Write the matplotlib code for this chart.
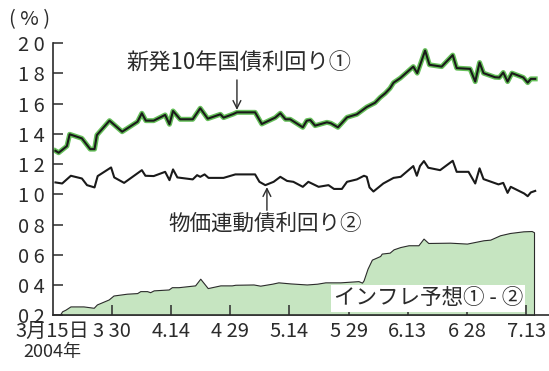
import matplotlib.pyplot as plt

plt.rcParams['font.family'] = ['Noto Sans CJK JP', 'DejaVu Sans']

# 2004年3月15日からの経過日数
days_nominal = [0.7, 1.5, 3.6, 4.3, 7.4, 9.5, 10.6, 11.2, 14.4, 17.6, 21.5, 22.6,
                23.6, 25.6, 28.5, 29.6, 30.5, 32.3, 35.5, 37.4, 39.3, 42.5, 43.3,
                45.8, 46.7, 51.3, 53.0, 56.4, 57.7, 59.0, 60.2, 63.4, 64.4, 65.3,
                66.5, 69.5, 70.5, 72.3, 74.6, 77.1, 79.6, 81.7, 83.0, 84.3, 85.5,
                86.4, 88.1, 91.4, 92.4, 94.4, 95.5, 98.6, 101.4, 102.4, 105.8,
                107.1, 108.2, 109.2, 112.1, 113.2, 114.2, 115.3, 116.4, 119.3,
                120.4, 121.2, 122.3]
yield_nominal = [1.288, 1.275, 1.319, 1.397, 1.370, 1.299, 1.299, 1.392, 1.487,
                 1.414, 1.480, 1.536, 1.487, 1.487, 1.525, 1.463, 1.551, 1.496,
                 1.496, 1.569, 1.500, 1.529, 1.507, 1.531, 1.542, 1.542, 1.465,
                 1.507, 1.536, 1.496, 1.496, 1.443, 1.487, 1.491, 1.454, 1.476,
                 1.470, 1.443, 1.509, 1.529, 1.577, 1.605, 1.640, 1.668, 1.701,
                 1.738, 1.768, 1.844, 1.801, 1.950, 1.856, 1.844, 1.920, 1.834,
                 1.829, 1.745, 1.871, 1.801, 1.774, 1.772, 1.805, 1.745, 1.801,
                 1.772, 1.738, 1.763, 1.763]

days_real = [0.7, 2.4, 4.6, 7.4, 8.7, 10.6, 11.4, 14.8, 15.6, 18.1, 22.6, 23.5,
             25.6, 28.5, 29.6, 30.5, 31.6, 35.5, 36.6, 37.4, 38.5, 39.5, 43.3,
             46.3, 51.3, 52.4, 53.9, 56.0, 57.7, 59.4, 61.0, 63.4, 64.8, 67.4,
             69.9, 71.3, 73.3, 74.6, 77.1, 78.9, 79.6, 80.3, 81.3, 83.8, 86.4,
             88.2, 91.4, 92.3, 93.1, 94.1, 95.2, 98.2, 101.4, 102.4, 105.4,
             107.1, 108.2, 109.2, 113.0, 114.2, 115.3, 116.1, 119.5, 120.4,
             121.2, 122.3]
yield_real = [1.079, 1.072, 1.123, 1.105, 1.061, 1.046, 1.121, 1.178, 1.112,
              1.076, 1.160, 1.123, 1.121, 1.149, 1.094, 1.165, 1.112, 1.099,
              1.127, 1.116, 1.132, 1.109, 1.109, 1.132, 1.132, 1.083, 1.061,
              1.083, 1.116, 1.089, 1.083, 1.050, 1.083, 1.050, 1.061, 1.036,
              1.036, 1.083, 1.099, 1.123, 1.116, 1.046, 1.019, 1.072, 1.109,
              1.116, 1.187, 1.123, 1.187, 1.220, 1.176, 1.160, 1.222, 1.149,
              1.149, 1.072, 1.172, 1.101, 1.066, 1.076, 1.010, 1.050, 1.006,
              0.988, 1.013, 1.023]

days_infl = [1.7, 2.4, 3.2, 4.5, 7.8, 10.4, 11.2, 14.2, 15.4, 18.8, 21.4, 22.2,
             23.9, 24.7, 25.6, 29.4, 30.2, 31.9, 36.1, 37.4, 39.3, 42.5, 45.4,
             46.3, 50.9, 52.6, 55.6, 57.2, 60.2, 64.4, 67.0, 69.1, 72.9, 77.5,
             78.4, 78.8, 79.8, 80.9, 83.0, 83.4, 85.4, 86.4, 88.1, 90.2, 92.7,
             94.0, 95.2, 100.7, 105.0, 109.2, 110.9, 113.4, 115.9, 119.3, 121.4,
             122.0]
infl_expect = [0.200, 0.228, 0.238, 0.260, 0.260, 0.251, 0.273, 0.306, 0.332,
               0.344, 0.348, 0.361, 0.361, 0.354, 0.366, 0.372, 0.387, 0.387,
               0.399, 0.443, 0.381, 0.399, 0.399, 0.403, 0.405, 0.397, 0.410,
               0.419, 0.412, 0.405, 0.410, 0.419, 0.419, 0.427, 0.417, 0.432,
               0.509, 0.569, 0.593, 0.609, 0.615, 0.637, 0.652, 0.664, 0.664,
               0.708, 0.679, 0.681, 0.675, 0.697, 0.701, 0.730, 0.745, 0.756,
               0.758, 0.750]

x_ticks = [0, 15, 30, 45, 60, 75, 90, 105, 120]
x_labels = ['3月15日', '3 30', '4.14', '4 29', '5.14', '5 29', '6.13', '6 28', '7.13']
y_ticks = [0.2, 0.4, 0.6, 0.8, 1.0, 1.2, 1.4, 1.6, 1.8, 2.0]
y_labels = ['0 2', '0 4', '0 6', '0 8', '1 0', '1 2', '1 4', '1 6', '1 8', '2 0']

ink = '#2b2b2b'

fig = plt.figure(figsize=(5.49, 3.71), dpi=100)
ax = fig.add_axes([0.096, 0.1496, 0.904, 0.7345])

# インフレ予想(①-②)の面
ax.fill_between(days_infl, 0.2, infl_expect, facecolor='#c6e5c1',
                edgecolor=ink, linewidth=0.8, zorder=1)

# 新発10年国債利回り(緑の縁取り付き)
ax.plot(days_nominal, yield_nominal, color='#66c05a', lw=3.6,
        solid_joinstyle='round', zorder=2)
ax.plot(days_nominal, yield_nominal, color='#1a1a1a', lw=1.5, zorder=3)

# 物価連動債利回り
ax.plot(days_real, yield_real, color='#1a1a1a', lw=1.5, zorder=3)

ax.set_xlim(0, 125.8)
ax.set_ylim(0.2, 2.0)
ax.set_xticks(x_ticks)
ax.set_xticklabels(x_labels)
ax.set_yticks(y_ticks)
ax.set_yticklabels(y_labels)
ax.tick_params(axis='both', direction='in', length=7, width=1.1, color=ink,
               labelcolor=ink, labelsize=14.5)
ax.tick_params(axis='y', pad=6)
ax.tick_params(axis='x', pad=4)
for side in ('top', 'right'):
    ax.spines[side].set_visible(False)
for side in ('left', 'bottom'):
    ax.spines[side].set_color(ink)
    ax.spines[side].set_linewidth(1.2)
ax.xaxis.get_major_ticks()[0].tick1line.set_visible(False)

fig.text(0.016, 0.946, '( % )', fontsize=14.5, color=ink, va='center', ha='left')
fig.text(0.095, 0.052, '2004年', fontsize=13, color=ink, va='center', ha='center')

ax.text(47.3, 1.869, '新発10年国債利回り①', fontsize=16, color=ink,
        ha='center', va='center')
ax.annotate('', xy=(46.7, 1.558), xytext=(46.7, 1.756),
            arrowprops=dict(arrowstyle='->', lw=1.0, color=ink,
                            shrinkA=0, shrinkB=0, mutation_scale=14))

ax.text(53.9, 0.803, '物価連動債利回り②', fontsize=15.5, color=ink,
        ha='center', va='center')
ax.annotate('', xy=(54.3, 1.048), xytext=(54.3, 0.895),
            arrowprops=dict(arrowstyle='->', lw=1.0, color=ink,
                            shrinkA=0, shrinkB=0, mutation_scale=14))

ax.text(95.2, 0.313, 'インフレ予想① - ②', fontsize=15.5, color=ink,
        ha='center', va='center', zorder=5,
        bbox=dict(boxstyle='square,pad=0.12', facecolor='white', edgecolor='none'))

fig.savefig('out.png', dpi=100)
